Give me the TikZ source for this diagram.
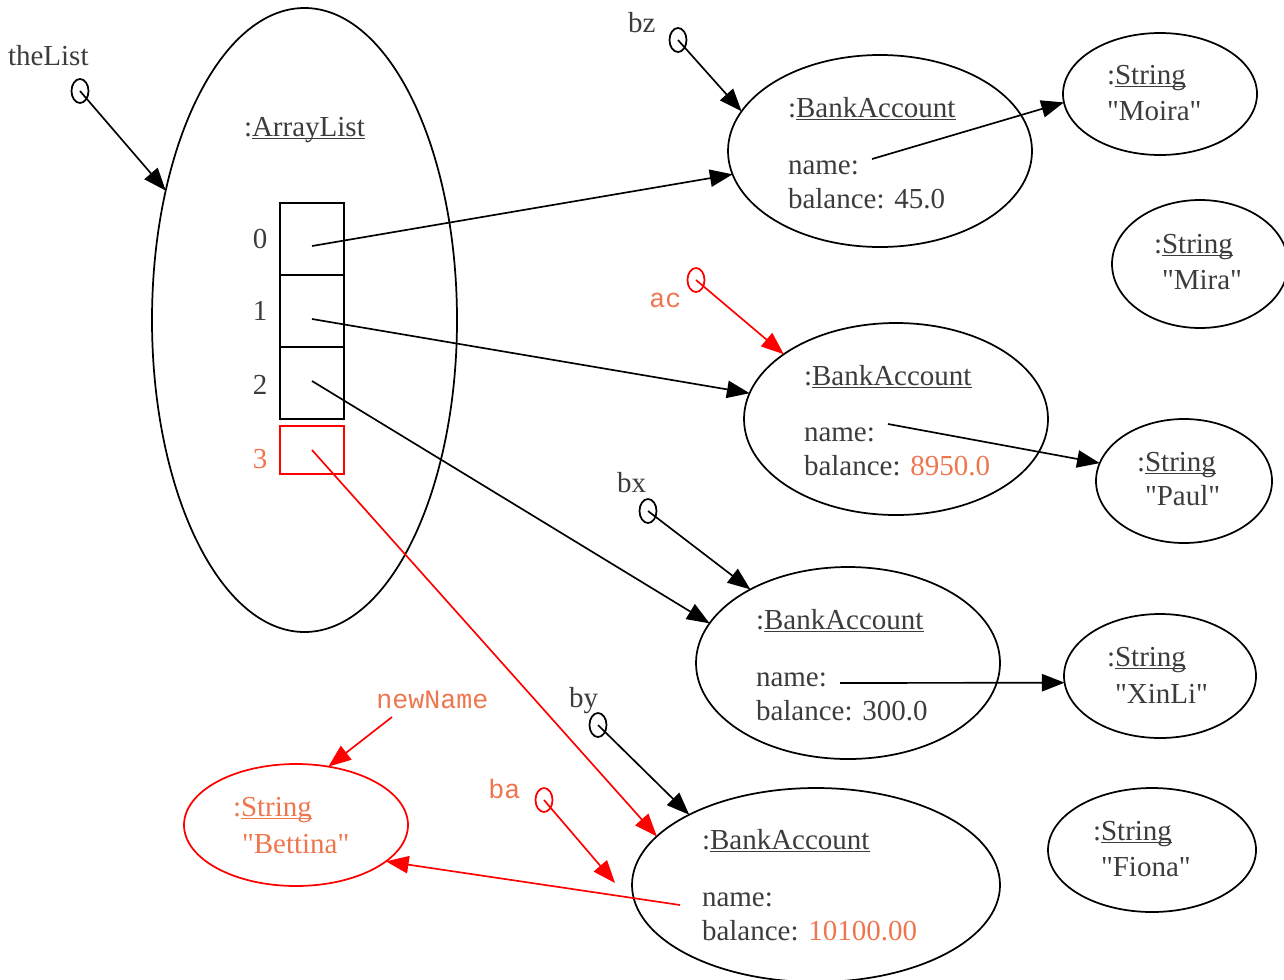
\documentclass[tikz,border=0pt]{standalone}
\usepackage{fontspec}
\setmainfont{Liberation Serif}[Ligatures=TeXOff]
\setmonofont{Liberation Mono}
\usetikzlibrary{arrows.meta,shapes.geometric}
\definecolor{txt}{RGB}{60,60,60}
\definecolor{org}{RGB}{238,118,78}
\definecolor{rd}{RGB}{255,0,0}
\newcommand{\myul}[1]{\sbox0{#1}\rlap{\rule[-2.4pt]{\wd0}{1.1pt}}\usebox0}
\begin{document}
\begin{tikzpicture}[x=0.75pt,y=-0.75pt,
  font=\fontsize{21.75}{26}\selectfont, text=txt,
  obj/.style={draw, ellipse, line width=1.3pt, inner sep=0pt, outer sep=0pt},
  refc/.style={draw, ellipse, line width=1.3pt, inner sep=0pt, outer sep=0pt,
     minimum width=12.75pt, minimum height=18pt},
  lbl/.style={anchor=base west, inner sep=0pt, outer sep=0pt},
  mono/.style={anchor=base west, inner sep=0pt, text=org,
     font=\fontsize{20}{24}\selectfont\ttfamily},
  cell/.style={draw, line width=1.1pt, minimum width=48pt, minimum height=54pt,
     inner sep=0pt, outer sep=0pt},
  arr/.style={-{Triangle[length=17pt,width=13pt]}, line width=1.25pt}]
\useasboundingbox (0,0) rectangle (1284,979);

% ArrayList
\node[obj, minimum width=228.75pt, minimum height=468pt] (AL) at (304.5,320) {};
\node[lbl] (ALt) at (244,136) {:\myul{ArrayList}};
\node[cell] (c0) at (312,239) {};
\node[cell] (c1) at (312,311) {};
\node[cell] (c2) at (312,383) {};
\node[draw=rd, line width=1.5pt, minimum width=48pt, minimum height=36pt,
      inner sep=0pt, outer sep=0pt] (c3) at (312,450) {};
\node[anchor=base, inner sep=0pt] (i0) at (260,248) {0};
\node[anchor=base, inner sep=0pt] (i1) at (260,320) {1};
\node[anchor=base, inner sep=0pt] (i2) at (260,394) {2};
\node[anchor=base, inner sep=0pt, text=org] (i3) at (260,468) {3};
\coordinate (p0) at (312,246);
\coordinate (p1) at (312,319);
\coordinate (p2) at (312,381);
\coordinate (p3) at (312,450);

% reference labels and circles
\node[lbl] (tl) at (8,65) {theList};
\node[refc] (tlc) at (80,91) {};
\node[lbl] (bz) at (628,32) {bz};
\node[refc] (bzc) at (678,40) {};
\node[mono] (ac) at (649,307) {ac};
\node[refc, draw=rd] (acc) at (696,280) {};
\node[lbl] (bx) at (617,492) {bx};
\node[refc] (bxc) at (648,511) {};
\node[lbl] (by) at (569,707) {by};
\node[refc] (byc) at (598,725) {};
\node[mono] (ba) at (488,798) {ba};
\node[refc, draw=rd] (bac) at (544,800) {};
\coordinate (batip) at (615,883);
\node[mono] (nn) at (376,708) {newName};
\coordinate (nnstart) at (392,717);

% BankAccounts
\node[obj, minimum width=228pt, minimum height=144pt] (BA1) at (880,151) {};
\node[lbl] at (788,117) {:\myul{BankAccount}};
\node[lbl] at (788,174) {name:};
\node[lbl] at (788,208) {balance: 45.0};
\coordinate (n1) at (872,159);

\node[obj, minimum width=228pt, minimum height=144pt] (BA2) at (896,419) {};
\node[lbl] at (804,385) {:\myul{BankAccount}};
\node[lbl] at (804,441) {name:};
\node[lbl] at (804,475) {balance: \textcolor{org}{8950.0}};
\coordinate (n2) at (888,424);

\node[obj, minimum width=228pt, minimum height=144pt] (BA3) at (848,663) {};
\node[lbl] at (756,629) {:\myul{BankAccount}};
\node[lbl] at (756,686) {name:};
\node[lbl] at (756,720) {balance: 300.0};
\coordinate (n3) at (840,683);

\node[obj, minimum width=276pt, minimum height=145.5pt] (BA4) at (816,885) {};
\node[lbl] at (702,849) {:\myul{BankAccount}};
\node[lbl] at (702,906) {name:};
\node[lbl] at (702,940) {balance: \textcolor{org}{10100.00}};
\coordinate (n4) at (680,905);

% Strings
\node[obj, minimum width=145.5pt, minimum height=91.5pt] (Moira) at (1160,94) {};
\node[lbl] at (1107,84) {:\myul{String}};
\node[lbl] at (1107,120) {"Moira"};

\node[obj, minimum width=132pt, minimum height=96pt] (Mira) at (1200,264) {};
\node[lbl] at (1154,253) {:\myul{String}};
\node[lbl] at (1162,289) {"Mira"};

\node[obj, minimum width=132pt, minimum height=93pt] (Paul) at (1184,481) {};
\node[lbl] at (1137,471) {:\myul{String}};
\node[lbl] at (1145,505) {"Paul"};

\node[obj, minimum width=144pt, minimum height=93pt] (XinLi) at (1160,676) {};
\node[lbl] at (1107,666) {:\myul{String}};
\node[lbl] at (1115,703) {"XinLi"};

\node[obj, minimum width=156pt, minimum height=93pt] (Fiona) at (1152,850) {};
\node[lbl] at (1093,840) {:\myul{String}};
\node[lbl] at (1101,876) {"Fiona"};

\node[obj, draw=rd, minimum width=168pt, minimum height=91.5pt] (Bet) at (296,825) {};
\node[lbl, text=org] at (233,816) {:\myul{String}};
\node[lbl, text=org] at (242,853) {"Bettina"};

% connectors
\draw[arr] (tlc.center) -- (AL.137);
\draw[arr] (bzc.center) -- (BA1.164);
\draw[arr] (p0) -- (BA1.189);
\draw[arr] (n1) -- (Moira.185);
\draw[arr, rd] (acc.center) -- (BA2.150);
\draw[arr] (p1) -- (BA2.170);
\draw[arr] (n2) -- (Paul.168);
\draw[arr] (bxc.center) -- (BA3.143);
\draw[arr] (p2) -- (BA3.164);
\draw[arr] (n3) -- (XinLi.184);
\draw[arr] (byc.center) -- (BA4.151);
\draw[arr, rd] (p3) -- (BA4.163);
\draw[arr, rd] (bac.center) -- (batip);
\draw[arr, rd] (n4) -- (Bet.338);
\draw[arr, rd] (nnstart) -- (Bet.61);
\end{tikzpicture}
\end{document}
